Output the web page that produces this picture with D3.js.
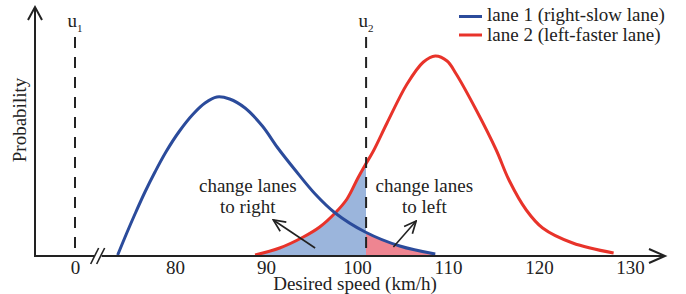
<!DOCTYPE html>
<html>
<head>
<meta charset="utf-8">
<script src="https://cdn.jsdelivr.net/npm/d3@7"></script>
<style>
  body { margin: 0; background: #fff; }
  text { font-family: "Liberation Serif", "Times New Roman", serif; fill: #222; }
</style>
</head>
<body>
<svg id="chart" width="686" height="294"></svg>
<script>
// tick labels of the speed axis
const tickValues = [0, 80, 90, 100, 110, 120, 130];

// thresholds
const u1 = 0;
const u2 = 101;

// lane 1 (right-slow lane) density
const lane1Speed = [73.7, 74.7, 75.7, 76.7, 77.8, 79.0, 80.5, 82.0, 83.3, 84.6, 86.0, 87.7, 89.6, 91.3, 93.2, 95.4, 97.6, 100.9, 104.7, 108.6];
const lane1Prob  = [0.005, 0.115, 0.22, 0.32, 0.42, 0.52, 0.625, 0.71, 0.765, 0.795, 0.785, 0.74, 0.65, 0.54, 0.43, 0.31, 0.215, 0.12, 0.05, 0.01];

// lane 2 (left-faster lane) density
const lane2Speed = [88.8, 91.5, 94.1, 95.9, 97.6, 98.9, 100.1, 100.9, 101.8, 103.3, 105.5, 107.3, 108.6, 109.9, 110.9, 113.1, 115.3, 116.7, 118.6, 120.4, 123.7, 128.2];
const lane2Prob  = [0.005, 0.04, 0.095, 0.145, 0.215, 0.285, 0.39, 0.455, 0.525, 0.665, 0.86, 0.97, 1.0, 0.975, 0.91, 0.73, 0.53, 0.38, 0.23, 0.14, 0.065, 0.015];

const legendLabels = ["lane 1 (right-slow lane)", "lane 2 (left-faster lane)"];
const blue = "#2b4b9b";
const red = "#e8332a";

const svg = d3.select("#chart");

// broken axis: 0..70 squeezed into a few pixels, then linear from 70 up
const x = d3.scaleLinear().domain([0, 70, 130]).range([75, 84, 630]);
const y = d3.scaleLinear().domain([0, 1]).range([256, 56]);
const breakAt = 71.5;
const axisX0 = 35, axisY0 = y(0);

const lane1 = lane1Speed.map((s, i) => ({s: s, p: lane1Prob[i]}));
const lane2 = lane2Speed.map((s, i) => ({s: s, p: lane2Prob[i]}));

const line = d3.line().x(d => x(d.s)).y(d => y(d.p)).curve(d3.curveCatmullRom.alpha(0.5));
const area = d3.area().x(d => x(d.s)).y0(y(0)).y1(d => y(d.p)).curve(d3.curveCatmullRom.alpha(0.5));

// clip regions split at u2
const defs = svg.append("defs");
defs.append("clipPath").attr("id", "leftOfU2")
  .append("rect").attr("x", 0).attr("y", 0).attr("width", x(u2)).attr("height", 294);
defs.append("clipPath").attr("id", "rightOfU2")
  .append("rect").attr("x", x(u2)).attr("y", 0).attr("width", 686 - x(u2)).attr("height", 294);

defs.append("marker").attr("id", "head")
  .attr("viewBox", "0 0 14 14").attr("refX", 13).attr("refY", 7)
  .attr("markerWidth", 14).attr("markerHeight", 14).attr("markerUnits", "userSpaceOnUse")
  .attr("orient", "auto")
  .append("path").attr("d", "M1,1.5 L13,7 L1,12.5").attr("fill", "none")
  .attr("stroke", "#222").attr("stroke-width", 1.7);

// shaded areas
svg.append("path").datum(lane2)
  .attr("d", area).attr("fill", "#9bb5dc").attr("clip-path", "url(#leftOfU2)");
svg.append("path").datum(lane1)
  .attr("d", area).attr("fill", "#ee8591").attr("clip-path", "url(#rightOfU2)");

// curves
svg.append("path").datum(lane2)
  .attr("d", line).attr("fill", "none").attr("stroke", red).attr("stroke-width", 3);
svg.append("path").datum(lane1)
  .attr("d", line).attr("fill", "none").attr("stroke", blue).attr("stroke-width", 3);

// threshold lines
[[u1, "1"], [u2, "2"]].forEach(([u, sub]) => {
  svg.append("line")
    .attr("x1", x(u)).attr("x2", x(u)).attr("y1", 37).attr("y2", axisY0)
    .attr("stroke", "#222").attr("stroke-width", 2).attr("stroke-dasharray", "11,9");
  const t = svg.append("text").attr("x", x(u)).attr("y", 27)
    .attr("text-anchor", "middle").style("font-size", "19px").text("u");
  t.append("tspan").attr("dy", 5).style("font-size", "11px").text(sub);
});

// y axis with arrow
svg.append("line").attr("x1", axisX0).attr("x2", axisX0).attr("y1", 7).attr("y2", axisY0)
  .attr("stroke", "#222").attr("stroke-width", 2);
svg.append("path").attr("d", `M${axisX0 - 7},20 L${axisX0},7 L${axisX0 + 7},20`)
  .attr("fill", "none").attr("stroke", "#222").attr("stroke-width", 2);

// x axis, broken near the origin, with arrow
const bx = x(breakAt);
svg.append("line").attr("x1", axisX0 - 1).attr("x2", bx - 3).attr("y1", axisY0).attr("y2", axisY0)
  .attr("stroke", "#222").attr("stroke-width", 2);
svg.append("line").attr("x1", bx + 4).attr("x2", 665).attr("y1", axisY0).attr("y2", axisY0)
  .attr("stroke", "#222").attr("stroke-width", 2);
[-3, 3].forEach(dx => {
  svg.append("line")
    .attr("x1", bx + dx - 4).attr("y1", axisY0 + 8).attr("x2", bx + dx + 4).attr("y2", axisY0 - 8)
    .attr("stroke", "#222").attr("stroke-width", 1.6);
});
svg.append("path").attr("d", `M649,${axisY0 - 7} L665,${axisY0} L649,${axisY0 + 7}`)
  .attr("fill", "none").attr("stroke", "#222").attr("stroke-width", 2);

const xAxis = svg.append("g").attr("transform", `translate(0,${axisY0})`)
  .call(d3.axisBottom(x).tickValues(tickValues).tickSize(0).tickPadding(5).tickFormat(d3.format("d")));
xAxis.select(".domain").remove();
xAxis.selectAll("text")
  .style("font-family", "'Liberation Serif', serif").style("font-size", "19px").attr("fill", "#222");

// axis titles
svg.append("text").attr("x", 355).attr("y", 290).attr("text-anchor", "middle")
  .style("font-size", "19px").text("Desired speed (km/h)");
svg.append("text").attr("transform", "translate(26,120) rotate(-90)").attr("text-anchor", "middle")
  .style("font-size", "19px").text("Probability");

// annotations
const notes = [
  {lines: ["change lanes", "to right"], s: 88.0, from: [95.4, 0.04], to: [90.8, 0.18]},
  {lines: ["change lanes", "to left"], s: 107.4, from: [104.0, 0.045], to: [106.5, 0.175]}
];
notes.forEach(n => {
  n.lines.forEach((l, i) => {
    svg.append("text").attr("x", x(n.s)).attr("y", y(0.32) + i * 21)
      .attr("text-anchor", "middle").style("font-size", "19px").text(l);
  });
  svg.append("line")
    .attr("x1", x(n.from[0])).attr("y1", y(n.from[1]))
    .attr("x2", x(n.to[0])).attr("y2", y(n.to[1]))
    .attr("stroke", "#222").attr("stroke-width", 1.6).attr("marker-end", "url(#head)");
});

// legend
const legend = svg.append("g").attr("transform", "translate(459,0)");
legendLabels.forEach((label, i) => {
  legend.append("line").attr("x1", 0).attr("x2", 23).attr("y1", 16.5 + i * 18.5).attr("y2", 16.5 + i * 18.5)
    .attr("stroke", i === 0 ? blue : red).attr("stroke-width", 3);
  legend.append("text").attr("x", 28).attr("y", 21 + i * 19.5)
    .style("font-size", "19px").text(label);
});
</script>
</body>
</html>
